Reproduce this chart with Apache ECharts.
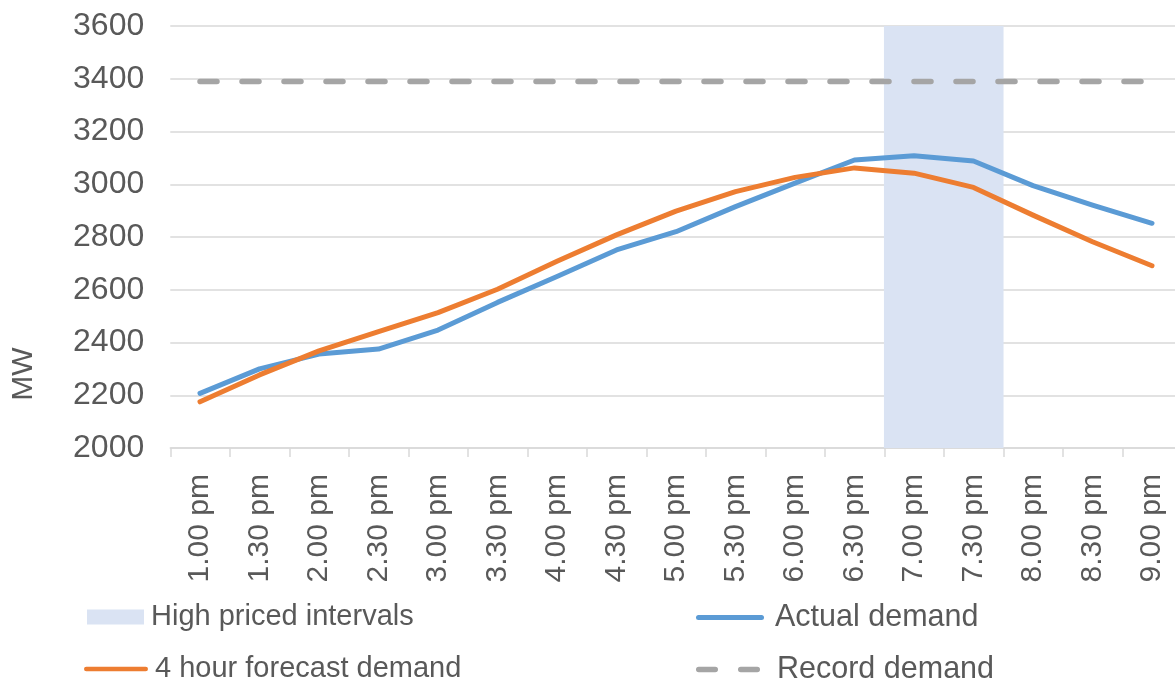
<!DOCTYPE html>
<html>
<head>
<meta charset="utf-8">
<script src="https://cdn.jsdelivr.net/npm/echarts@6/dist/echarts.min.js"></script>
<style>
html,body{margin:0;padding:0;background:#fff;}
#chart{width:1175px;height:684px;}
</style>
</head>
<body>
<div id="chart"></div>
<script>
const categories = ['1.00 pm','1.30 pm','2.00 pm','2.30 pm','3.00 pm','3.30 pm','4.00 pm','4.30 pm','5.00 pm','5.30 pm','6.00 pm','6.30 pm','7.00 pm','7.30 pm','8.00 pm','8.30 pm','9.00 pm'];
const actualDemand = [2207,2300,2356,2375,2447,2552,2650,2751,2820,2915,3004,3092,3108,3088,2995,2921,2852];
const forecastDemand = [2175,2277,2368,2441,2513,2602,2708,2808,2898,2972,3026,3062,3042,2988,2883,2782,2691];
const recordDemand = [3390,3390,3390,3390,3390,3390,3390,3390,3390,3390,3390,3390,3390,3390,3390,3390,3390];
const highPriced = [null,null,null,null,null,null,null,null,null,null,null,null,3600,3600,null,null,null];
const yTicks = {min:2000, max:3600, interval:200};

const FONT = 'Liberation Sans, Arial, sans-serif';
const TXT = '#595959';
const chart = echarts.init(document.getElementById('chart'));
function leg(name, left, top, w, h, icon, fs, pad){
  return {data:[{name:name, icon:icon}], left:left, top:top, padding:0, itemWidth:w, itemHeight:h, itemGap:0,
    selectedMode:false, textStyle:{fontFamily:FONT, fontSize:fs, color:TXT, lineHeight:30, padding:[0,0,0,pad]}};
}
const lineIcon = 'path://M2.5,0h63a2.5,2.5 0 0 1 0,5h-63a2.5,2.5 0 0 1 0,-5z';
const dashIcon = 'path://M2.75,0h16.5a2.75,2.75 0 0 1 0,5.5h-16.5a2.75,2.75 0 0 1 0,-5.5z M44.75,0h16.5a2.75,2.75 0 0 1 0,5.5h-16.5a2.75,2.75 0 0 1 0,-5.5z';
chart.setOption({
  animation:false,
  backgroundColor:'#fff',
  grid:{left:170.25, top:26, width:1011.5, height:422, containLabel:false, outerBoundsMode:'none'},
  legend:[
    leg('High priced intervals', 87, 602, 57, 15, 'rect', 29, 2),
    leg('4 hour forecast demand', 84, 654, 64, 5, lineIcon, 29, 2),
    leg('Actual demand', 696, 602, 72, 5, lineIcon, 30.5, 4),
    leg('Record demand', 696, 654, 64, 5.5, dashIcon, 30.5, 12)
  ],
  graphic:[{type:'text', x:24, y:374, rotation:Math.PI/2,
    style:{text:'MW', font:'30px '+FONT, fill:TXT, align:'center', verticalAlign:'middle'}}],
  xAxis:{type:'category', data:categories, boundaryGap:true,
    axisLine:{lineStyle:{color:'#d9d9d9', width:1.5}},
    axisTick:{show:true, interval:0, length:9, lineStyle:{color:'#d9d9d9', width:1.5}},
    axisLabel:{interval:0, rotate:90, margin:26, fontFamily:FONT, fontSize:30, color:TXT},
    splitLine:{show:false}},
  yAxis:{type:'value', min:yTicks.min, max:yTicks.max, interval:yTicks.interval,
    axisLine:{show:false}, axisTick:{show:false},
    axisLabel:{margin:26, fontFamily:FONT, fontSize:32, color:TXT, formatter:function(v){return String(v);}},
    splitLine:{lineStyle:{color:'#d9d9d9', width:1.5}}},
  series:[
    {name:'High priced intervals', type:'bar', data:highPriced, barWidth:'101%', barGap:'0%',
      itemStyle:{color:'#dae3f3'}, z:1},
    {name:'Actual demand', type:'line', data:actualDemand, symbol:'none', smooth:false,
      lineStyle:{color:'#5b9bd5', width:5, cap:'round', join:'round'}, itemStyle:{color:'#5b9bd5'}, z:3},
    {name:'4 hour forecast demand', type:'line', data:forecastDemand, symbol:'none',
      lineStyle:{color:'#ed7d31', width:5, cap:'round', join:'round'}, itemStyle:{color:'#ed7d31'}, z:4},
    {name:'Record demand', type:'line', data:recordDemand, symbol:'none',
      lineStyle:{color:'#a5a5a5', width:5.5, type:[17,25], cap:'round'}, itemStyle:{color:'#a5a5a5'}, z:2}
  ]
});
</script>
</body>
</html>
